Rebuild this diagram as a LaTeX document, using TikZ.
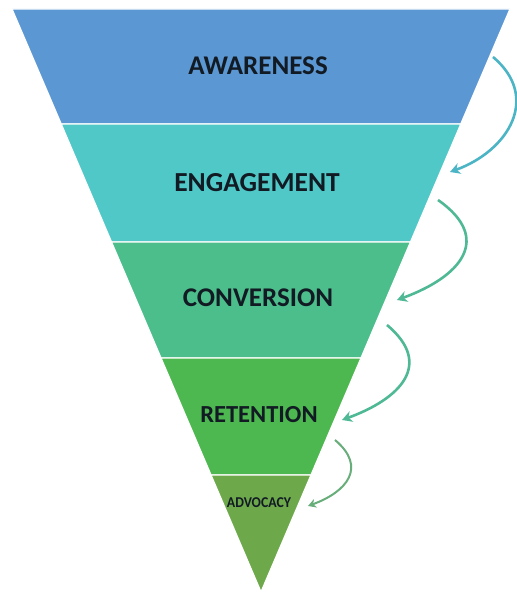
\documentclass[tikz,border=0pt]{standalone}
\usepackage{fontspec}
\setmainfont{Carlito}
\usepackage{xcolor}
\usetikzlibrary{arrows.meta}

\definecolor{awareC}{HTML}{5B97D2}
\definecolor{engageC}{HTML}{4FC8C7}
\definecolor{convC}{HTML}{4CBE8B}
\definecolor{retainC}{HTML}{4DB84F}
\definecolor{advoC}{HTML}{6DA94B}
\definecolor{labelC}{HTML}{121A24}
\definecolor{arrowA}{HTML}{4BB4C5}
\definecolor{arrowB}{HTML}{4FB996}
\definecolor{arrowC}{HTML}{68AE7A}

\tikzset{
  band/.style={draw=white, line width=1.3pt, line join=round},
  stage/.style={font=\bfseries, text=labelC},
  flow/.style={-{Stealth[length=10pt,width=11pt]}, line width=2.6pt}
}

\begin{document}
\begin{tikzpicture}[x=1pt,y=1pt]
%
\useasboundingbox (0,0) rectangle (517,595);

         \fill [white] (0,0) rectangle (517,595);
         \draw [band, fill=awareC]  (12,586) -- (510,586) -- (460.8,471) -- (61.2,471) -- cycle;
         \draw [band, fill=engageC] (61.2,471) -- (460.8,471) -- (410.5,353) -- (111.5,353) -- cycle;
         \draw [band, fill=convC]   (111.5,353) -- (410.5,353) -- (361,237) -- (161,237) -- cycle;
         \draw [band, fill=retainC] (161,237) -- (361,237) -- (311,120) -- (211,120) -- cycle;
         \draw [band, fill=advoC]   (211,120) -- (311,120) -- (261,3) -- cycle;

         \node [stage, font=\bfseries\fontsize{27}{27}\selectfont] (aw) at (258,529) {AWARENESS};
         \node [stage, font=\bfseries\fontsize{27.5}{27.5}\selectfont] (en) at (257,412) {ENGAGEMENT};
         \node [stage, font=\bfseries\fontsize{27}{27}\selectfont] (co) at (258,297) {CONVERSION};
         \node [stage, font=\bfseries\fontsize{24.5}{24.5}\selectfont] (re) at (259,180) {RETENTION};
         \node [stage, font=\bfseries\fontsize{15}{15}\selectfont, xscale=0.92] (ad) at (259,92) {ADVOCACY};

         \coordinate (s1) at (493,538);  \coordinate (e1) at (450,423);
         \coordinate (s2) at (438,395);  \coordinate (e2) at (397,295);
         \coordinate (s3) at (387,270);  \coordinate (e3) at (342,175);
         \coordinate (s4) at (335,155);  \coordinate (e4) at (308,89);

         \draw [flow, arrowA] (s1) to [out=-40, in=20, looseness=1.3] (e1);
         \draw [flow, arrowB] (s2) to [out=-35, in=20, looseness=1.6] (e2);
         \draw [flow, arrowB] (s3) to [out=-40, in=20, looseness=1.5] (e3);
         \draw [flow, arrowC, line width=2pt, -{Stealth[length=8pt,width=9pt]}] (s4) to [out=-40, in=20, looseness=1.5] (e4);

        \end{tikzpicture}
\end{document}
